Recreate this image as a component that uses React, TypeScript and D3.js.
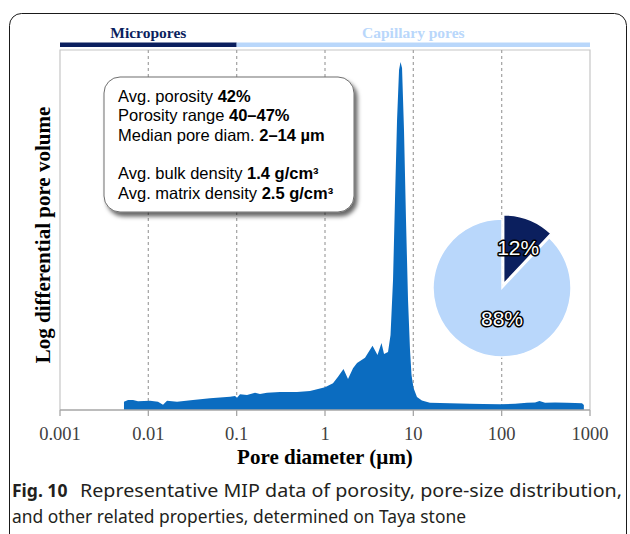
import React from "react";
import * as d3 from "d3";

// Pore-size distribution (MIP): pore diameter in µm vs. log differential intrusion
const diameters = [
  0.0053, 0.00589, 0.00671, 0.00764, 0.01045, 0.01287, 0.01466, 0.01627, 0.02112, 0.03204,
  0.04992, 0.0841, 0.0958, 0.1009, 0.1091, 0.131, 0.1613, 0.1837, 0.2206, 0.3094,
  0.482, 0.6765, 0.8335, 1.0, 1.232, 1.404, 1.62, 1.822, 2.076, 2.304,
  2.838, 3.45, 3.93, 4.36, 4.66, 5.17, 5.52, 5.89, 6.2, 6.54,
  6.89, 7.16, 7.45, 7.84, 8.26, 8.71, 9.17, 9.54, 10.05, 11.0,
  12.5, 15.4, 26.0, 43.8, 61.5, 95.8, 141.6, 193.6, 238.6, 268.3,
  309.6, 401.8, 549, 676, 812, 852,
];
const poreVolume = [
  0.0083, 0.01, 0.01, 0.0087, 0.0093, 0.0083, 0.0053, 0.0093, 0.0083, 0.01,
  0.0117, 0.0133, 0.014, 0.0123, 0.0157, 0.015, 0.0173, 0.016, 0.0173, 0.018,
  0.018, 0.019, 0.021, 0.0227, 0.0267, 0.0333, 0.041, 0.031, 0.0417, 0.047,
  0.0523, 0.0643, 0.055, 0.067, 0.056, 0.058, 0.075, 0.13, 0.21, 0.29,
  0.34, 0.348, 0.342, 0.28, 0.19, 0.11, 0.06, 0.035, 0.022, 0.013,
  0.0095, 0.0073, 0.0067, 0.0063, 0.006, 0.0057, 0.0063, 0.0073, 0.0075, 0.009,
  0.0073, 0.0075, 0.0073, 0.007, 0.0067, 0.005,
];

const tickValues = [0.001, 0.01, 0.1, 1, 10, 100, 1000];
const tickLabels = ["0.001", "0.01", "0.1", "1", "10", "100", "1000"];

// Pore classes shown along the top
const classNames = ["Micropores", "Capillary pores"];
const classBounds = [0.001, 0.1, 1000];

// Pie: share of pore volume by class
const pieLabels = ["12%", "88%"];
const pieShares = [12, 88];

// Summary box lines: [label, value]
const summaryLines: [string, string][] = [
  ["Avg. porosity ", "42%"],
  ["Porosity range ", "40–47%"],
  ["Median pore diam. ", "2–14 µm"],
  ["", ""],
  ["Avg. bulk density ", "1.4 g/cm³"],
  ["Avg. matrix density ", "2.5 g/cm³"],
];

const NAVY = "#0b1f5e";
const LIGHT = "#b9d7fb";
const AREA = "#0b6cc0";
const SERIF = "'Liberation Serif', 'Times New Roman', serif";
const SANS = "'Liberation Sans', Arial, sans-serif";

export default function App() {
  const left = 60, right = 590, top = 50, bottom = 410;
  const x = d3.scaleLog().domain([0.001, 1000]).range([left, right]);
  const y = d3.scaleLinear().domain([0, 0.36]).range([bottom, top]);

  const data = diameters.map((d, i) => ({ d, v: poreVolume[i] }));
  const areaPath = d3
    .area<{ d: number; v: number }>()
    .x((p) => x(p.d))
    .y0(y(0))
    .y1((p) => y(p.v))
    .curve(d3.curveLinear)(data) as string;

  const pieCx = 502, pieCy = 288, pieR = 69;
  const arcs = d3.pie<number>().sort(null).startAngle(0)(pieShares);
  const arcGen = d3.arc<d3.PieArcDatum<number>>().innerRadius(0).outerRadius(pieR);
  const labelArc = d3.arc<d3.PieArcDatum<number>>().innerRadius(44).outerRadius(44);
  const pieColors = [NAVY, LIGHT];

  const boxX = 104, boxY = 77, boxW = 250, boxH = 135;

  return (
    <svg
      width={630}
      height={534}
      style={{ position: "absolute", left: 0, top: 0, background: "#fff" }}
    >
      <defs>
        <filter id="boxShadow" x="-10%" y="-10%" width="130%" height="140%">
          <feDropShadow dx="3" dy="4" stdDeviation="2.2" floodColor="#000" floodOpacity="0.6" />
        </filter>
      </defs>

      {/* figure frame */}
      <rect x={9.5} y={13.5} width={617} height={600} rx={12} fill="none" stroke="#1a1a1a" strokeWidth={1} />

      {/* pore class bars and names */}
      {classNames.map((name, i) => {
        const x0 = x(classBounds[i]);
        const x1 = x(classBounds[i + 1]);
        const c = i === 0 ? NAVY : LIGHT;
        return (
          <g key={name}>
            <rect x={x0} y={42.5} width={x1 - x0} height={4.5} fill={c} />
            <text
              x={(x0 + x1) / 2}
              y={38}
              textAnchor="middle"
              fontFamily={SERIF}
              fontWeight="bold"
              fontSize={15.5}
              fill={c}
            >
              {name}
            </text>
          </g>
        );
      })}

      {/* plot frame */}
      <path
        d={`M${left},${bottom} V${top} H${right} V${bottom}`}
        fill="none"
        stroke="#c6c6c6"
        strokeWidth={1.2}
      />

      {/* dashed decade gridlines */}
      {tickValues.slice(1, -1).map((t) => (
        <line
          key={t}
          x1={x(t)}
          x2={x(t)}
          y1={top}
          y2={bottom}
          stroke="#a8a8a8"
          strokeWidth={1.3}
          strokeDasharray="3,3"
        />
      ))}

      {/* distribution */}
      <path d={areaPath} fill={AREA} />

      {/* x axis */}
      <line x1={left} x2={right} y1={bottom} y2={bottom} stroke="#a6a6a6" strokeWidth={1.3} />
      {tickValues.map((t, i) => (
        <g key={t}>
          <line x1={x(t)} x2={x(t)} y1={bottom} y2={bottom + 6} stroke="#a6a6a6" strokeWidth={1.3} />
          <text
            x={x(t)}
            y={440}
            textAnchor="middle"
            fontFamily={SERIF}
            fontSize={18.5}
            fill="#404040"
          >
            {tickLabels[i]}
          </text>
        </g>
      ))}
      <text x={325} y={464} textAnchor="middle" fontFamily={SERIF} fontWeight="bold" fontSize={21} fill="#000">
        Pore diameter (µm)
      </text>
      <text
        transform={`translate(50,235) rotate(-90)`}
        textAnchor="middle"
        fontFamily={SERIF}
        fontWeight="bold"
        fontSize={21}
        fill="#000"
      >
        Log differential pore volume
      </text>

      {/* summary box */}
      <rect
        x={boxX}
        y={boxY}
        width={boxW}
        height={boxH}
        rx={16}
        fill="#fff"
        stroke="#6e6e6e"
        strokeWidth={1}
        filter="url(#boxShadow)"
      />
      {summaryLines.map(([label, value], i) =>
        label ? (
          <text key={i} x={118} y={102 + i * 19.3} fontFamily={SANS} fontSize={16.5} fill="#000">
            {label}
            <tspan fontWeight="bold">{value}</tspan>
          </text>
        ) : null
      )}

      {/* pie */}
      <g transform={`translate(${pieCx},${pieCy})`}>
        {arcs.map((a, i) => {
          const [cx, cy] = arcGen.centroid(a);
          const len = Math.hypot(cx, cy);
          const off = i === 0 ? 4.5 : 0;
          return (
            <path
              key={i}
              d={arcGen(a) as string}
              transform={`translate(${(cx / len) * off},${(cy / len) * off})`}
              fill={pieColors[i]}
              stroke="#fff"
              strokeWidth={1.5}
            />
          );
        })}
        {arcs.map((a, i) => {
          const [lx, ly] = i === 0 ? labelArc.centroid(a) : [0, pieR * 0.44];
          return (
            <text
              key={`l${i}`}
              x={lx}
              y={ly}
              dy="0.36em"
              textAnchor="middle"
              fontFamily={SANS}
              fontSize={21}
              fill="#fff"
              stroke="#000"
              strokeWidth={3}
              strokeLinejoin="round"
              style={{ paintOrder: "stroke" }}
            >
              {pieLabels[i]}
            </text>
          );
        })}
      </g>

      {/* caption */}
      <text x={12} y={497} fontFamily="'Noto Sans', sans-serif" fontSize={17.5} fill="#231f20">
        <tspan fontWeight="bold">Fig. 10</tspan>
      </text>
      <text
        x={80}
        y={497}
        fontFamily="'Noto Sans', sans-serif"
        fontSize={17.5}
        fill="#231f20"
        textLength={542}
        lengthAdjust="spacingAndGlyphs"
      >
        Representative MIP data of porosity, pore-size distribution,
      </text>
      <text
        x={12}
        y={523}
        fontFamily="'Noto Sans', sans-serif"
        fontSize={17.5}
        fill="#231f20"
        textLength={454}
        lengthAdjust="spacingAndGlyphs"
      >
        and other related properties, determined on Taya stone
      </text>
    </svg>
  );
}
